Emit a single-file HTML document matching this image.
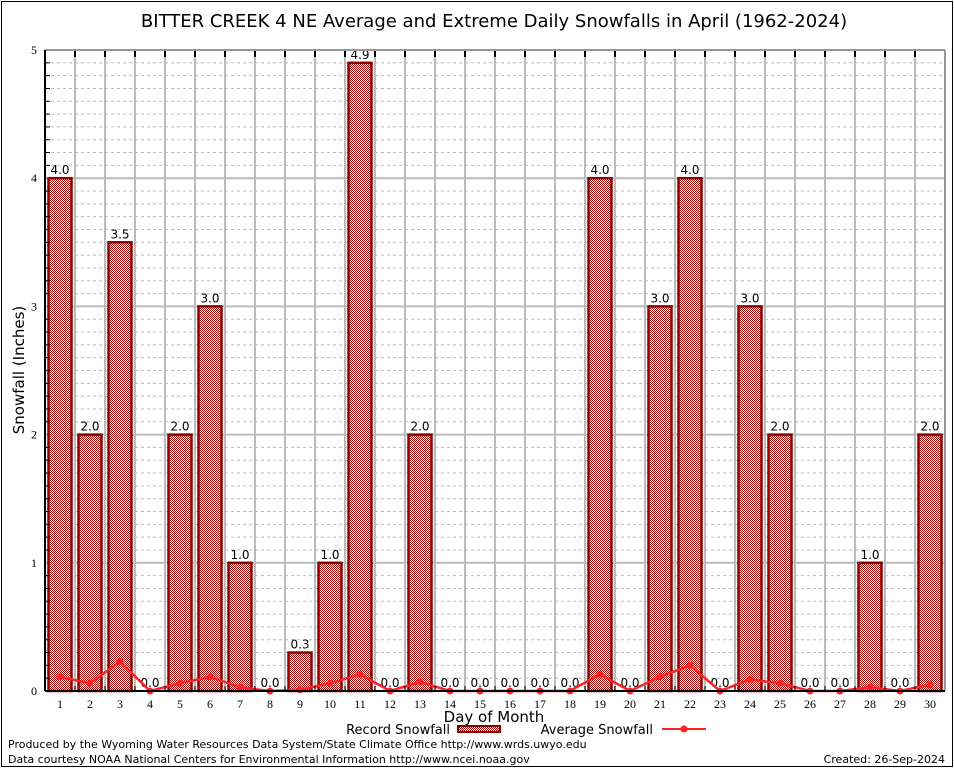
<!DOCTYPE html>
<html><head><meta charset="utf-8"><style>
body{margin:0;background:#fff;}
svg{display:block;font-family:"DejaVu Sans","Liberation Sans",sans-serif;}
</style></head><body>
<svg id="chart" width="954" height="768">
<defs><pattern id="pat" width="2" height="2" patternUnits="userSpaceOnUse"><rect width="2" height="2" fill="#fff"/><rect width="1" height="1" fill="#a00000"/><rect x="1" y="1" width="1" height="1" fill="#a00000"/></pattern></defs>
<rect x="1.5" y="1.5" width="951" height="765" fill="#fff" stroke="#000"/>
<text x="494" y="27" font-size="18" text-anchor="middle">BITTER CREEK 4 NE Average and Extreme Daily Snowfalls in April (1962-2024)</text>
<g id="grid"></g><g id="bars"></g><g id="avg"></g><g id="axes"></g>
<text x="24" y="370" font-size="15" text-anchor="middle" transform="rotate(-90 24 370)">Snowfall (Inches)</text>
<text x="494" y="722" font-size="15" text-anchor="middle">Day of Month</text>
<g><text x="450" y="734" font-size="13" text-anchor="end">Record Snowfall</text>
<rect x="458" y="726" width="42" height="6" fill="url(#pat)" stroke="#8b0000" stroke-width="2"/></g>
<g><text x="653" y="734" font-size="13" text-anchor="end">Average Snowfall</text>
<line x1="662" y1="729" x2="706" y2="729" stroke="#f22" stroke-width="2"/><circle cx="684" cy="729" r="3.5" fill="#f22"/></g>
<text x="8" y="748" font-size="11">Produced by the Wyoming Water Resources Data System/State Climate Office http://www.wrds.uwyo.edu</text>
<text x="8" y="763" font-size="11">Data courtesy NOAA National Centers for Environmental Information http://www.ncei.noaa.gov</text>
<text x="945" y="763" font-size="11" text-anchor="end">Created: 26-Sep-2024</text>
</svg>
<script>
const days=[1,2,3,4,5,6,7,8,9,10,11,12,13,14,15,16,17,18,19,20,21,22,23,24,25,26,27,28,29,30];
const recordSnow=[4.0,2.0,3.5,0.0,2.0,3.0,1.0,0.0,0.3,1.0,4.9,0.0,2.0,0.0,0.0,0.0,0.0,0.0,4.0,0.0,3.0,4.0,0.0,3.0,2.0,0.0,0.0,1.0,0.0,2.0];
const avgSnow=[0.11,0.06,0.23,0.0,0.06,0.11,0.03,0.0,0.01,0.06,0.13,0.0,0.07,0.0,0.0,0.0,0.0,0.0,0.13,0.0,0.11,0.2,0.0,0.09,0.06,0.0,0.0,0.03,0.0,0.05];
const yTicks=[0,1,2,3,4,5];
const NS="http://www.w3.org/2000/svg";
const L=45,R=945,T=50,B=691,yMax=5;
const step=(R-L)/days.length;
const x=d=>L+(d-0.5)*step;
const y=v=>B-v/yMax*(B-T);
function mk(p,t,a){const e=document.createElementNS(NS,t);for(const k in a)e.setAttribute(k,a[k]);document.getElementById(p).appendChild(e);return e;}
for(let v=0;v<=yMax*10;v++){const yy=y(v/10);
 if(v%10===0){const l=mk('grid','line',{x1:L,x2:R,y1:yy,y2:yy,stroke:'#bbb','stroke-width':2});}
 else{const l=mk('grid','line',{x1:L,x2:R,y1:yy,y2:yy,stroke:'#bbb','stroke-dasharray':'3,3'});
 mk('axes','line',{x1:L,x2:L+5,y1:yy,y2:yy,stroke:'#000'});}}
for(let i=1;i<days.length;i++){const xx=L+i*step;
 const l=mk('grid','line',{x1:xx,x2:xx,y1:T,y2:B,stroke:'#bbb','stroke-width':2});
 mk('axes','line',{x1:xx,x2:xx,y1:T,y2:T+7,stroke:'#000','stroke-width':2});mk('axes','line',{x1:xx,x2:xx,y1:B,y2:B-5,stroke:'#000'});}
mk('axes','line',{x1:L,x2:R,y1:T,y2:T,stroke:'#999','stroke-width':2});
mk('axes','line',{x1:R,x2:R,y1:T,y2:B,stroke:'#999','stroke-width':2});
mk('axes','line',{x1:L,x2:L,y1:T,y2:B,stroke:'#000','stroke-width':2});
mk('axes','line',{x1:L,x2:R,y1:B,y2:B,stroke:'#000','stroke-width':2});
yTicks.forEach(t=>{const e=mk('axes','text',{x:L-8,y:y(t)+4,'font-size':12,'text-anchor':'end','font-family':'Liberation Serif,serif'});e.textContent=t;
 });
days.forEach((d,i)=>{const cx=x(d);
 const e=mk('axes','text',{x:cx,y:B+17,'font-size':12,'text-anchor':'middle','font-family':'Liberation Serif,serif'});e.textContent=d;
 
 const v=recordSnow[i];
 if(v>0){const r=mk('bars','rect',{x:cx-11.5,y:y(v),width:23,height:B-y(v),fill:'url(#pat)',stroke:'#8b0000','stroke-width':2.5});
  }
 const lb=mk('bars','text',{x:cx,y:y(v)-4,'font-size':12,'text-anchor':'middle'});lb.textContent=v.toFixed(1);
 
});
const pl=mk('avg','polyline',{points:days.map((d,i)=>x(d)+','+y(avgSnow[i])).join(' '),fill:'none',stroke:'#f22','stroke-width':2.5});

days.forEach((d,i)=>{const c=mk('avg','circle',{cx:x(d),cy:y(avgSnow[i]),r:3.5,fill:'#f22'});
 });
</script>
</body></html>
